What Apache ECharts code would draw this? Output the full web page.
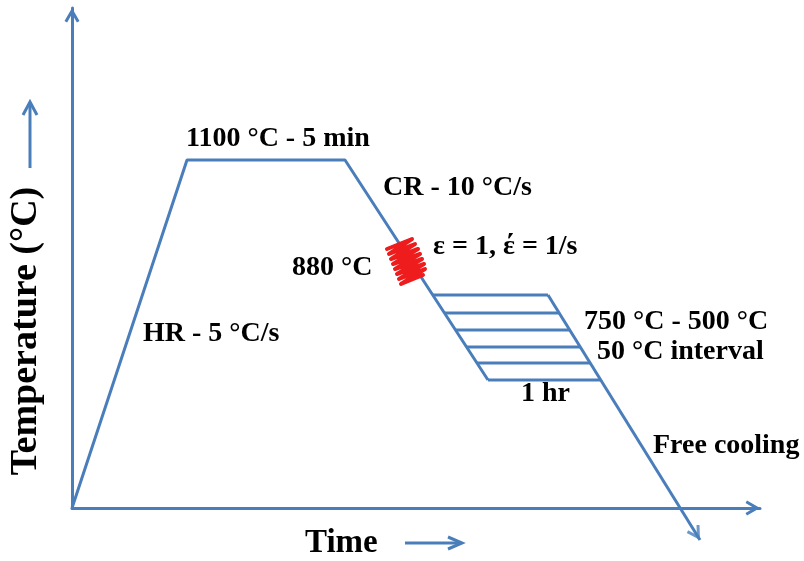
<!DOCTYPE html>
<html>
<head>
<meta charset="utf-8">
<script src="https://cdn.jsdelivr.net/npm/echarts@6/dist/echarts.min.js"></script>
<style>
html,body{margin:0;padding:0;background:#fff;}
#chart{width:804px;height:561px;}
</style>
</head>
<body>
<div id="chart"></div>
<script>
// ---- Data (schematic units) ----
const pathTime = [0, 115, 273, 416];
const pathTemp = [0, 348, 348, 128];
const holdTemp = [213, 195, 178, 161, 145, 128];
const holdStartTime = [361, 372, 384, 394, 405, 416];
const holdEndTime = [476, 487, 498, 508, 518, 529];
const freeCoolingTime = [476, 628];
const freeCoolingTemp = [213, -32];
const deformTime = [315, 340, 317, 343, 319, 346, 321, 348, 323, 350, 325, 352, 327, 353, 329, 351];
const deformTemp = [259, 269, 254, 264, 249, 259, 244, 254, 239, 249, 234, 244, 229, 239, 224, 233];
const annotationTexts = ['1100 °C - 5 min', 'CR - 10 °C/s', 'ε = 1, έ = 1/s', '880 °C', 'HR - 5 °C/s',
  '750 °C - 500 °C', '50 °C interval', '1 hr', 'Free cooling'];
const xAxisTitle = 'Time';
const yAxisTitle = 'Temperature (°C)';

// ---- Styles ----
const BLUE = '#4a7ebb';
const RED = '#ee1c1c';
const FONT = 'bold 28px "Liberation Serif", "Times New Roman", serif';
const CHEVRON = 'path://M7.5 0 L7.6 0 L7.5 0.1 Z M7.5 14.5 L15 27.5 L12.4 29 L7.5 20.5 L2.6 29 L0 27.5 Z';

const zip = (xs, ys) => xs.map((x, i) => [x, ys[i]]);

const series = [];
series.push({
  type: 'line', data: zip(pathTime, pathTemp), symbol: 'none', clip: false, silent: true,
  lineStyle: { color: BLUE, width: 3 }
});
holdTemp.forEach((t, i) => {
  series.push({
    type: 'line', data: [[holdStartTime[i], t], [holdEndTime[i], t]], symbol: 'none', clip: false, silent: true,
    lineStyle: { color: BLUE, width: 3 }
  });
});
series.push({
  type: 'line', data: zip(freeCoolingTime, freeCoolingTemp), symbol: 'none', clip: false, silent: true,
  lineStyle: { color: BLUE, width: 3 }
});
const n = freeCoolingTime.length;
const ang = Math.atan2(freeCoolingTemp[n - 1] - freeCoolingTemp[n - 2], freeCoolingTime[n - 1] - freeCoolingTime[n - 2]) * 180 / Math.PI;
series.push({
  type: 'scatter', data: [[freeCoolingTime[n - 1], freeCoolingTemp[n - 1]]], clip: false, silent: true,
  symbol: CHEVRON, symbolSize: [15, 29], symbolRotate: ang - 90, z: 5,
  itemStyle: { color: BLUE }
});
series.push({
  type: 'line', data: zip(deformTime, deformTemp), symbol: 'none', clip: false, silent: true, z: 6,
  lineStyle: { color: RED, width: 4, join: 'round', cap: 'round' }
});

// annotation positions (pixels): [left x, middle y]
const labelPos = [[186, 139], [383, 188], [433, 247], [292, 268], [143, 334], [584, 322], [597, 352], [521, 394], [653, 446]];

const graphic = annotationTexts.map((t, i) => ({
  type: 'text', x: labelPos[i][0], y: labelPos[i][1], silent: true,
  style: { text: t, font: FONT, fill: '#000', align: 'left', verticalAlign: 'middle' }
}));
graphic.push({
  type: 'text', x: 305, y: 543, silent: true,
  style: { text: xAxisTitle, font: 'bold 33px "Liberation Serif", serif', fill: '#000', align: 'left', verticalAlign: 'middle' }
});
graphic.push({
  type: 'text', x: 26, y: 331, rotation: Math.PI / 2, silent: true,
  style: { text: yAxisTitle, font: 'bold 38px "Liberation Serif", serif', fill: '#000', align: 'center', verticalAlign: 'middle' }
});
// small direction arrows next to the axis titles
graphic.push({ type: 'polyline', silent: true, shape: { points: [[405, 543], [461, 543]] }, style: { stroke: BLUE, lineWidth: 3, fill: null } });
graphic.push({ type: 'polyline', silent: true, shape: { points: [[448, 537], [462, 543], [448, 549]] }, style: { stroke: BLUE, lineWidth: 3, fill: null, lineJoin: 'miter' } });
graphic.push({ type: 'polyline', silent: true, shape: { points: [[30, 168], [30, 103]] }, style: { stroke: BLUE, lineWidth: 3, fill: null } });
graphic.push({ type: 'polyline', silent: true, shape: { points: [[23, 115], [30, 102], [37, 115]] }, style: { stroke: BLUE, lineWidth: 3, fill: null, lineJoin: 'miter' } });

const axisCommon = {
  type: 'value', min: 0,
  axisLine: { show: true, onZero: true, symbol: ['none', CHEVRON], symbolSize: [15, 29], lineStyle: { color: BLUE, width: 3 } },
  axisTick: { show: false }, axisLabel: { show: false }, splitLine: { show: false }
};

const chart = echarts.init(document.getElementById('chart'), null, { renderer: 'canvas' });
chart.setOption({
  animation: false,
  backgroundColor: '#fff',
  grid: { left: 72, right: 44, top: 8, bottom: 53, containLabel: false },
  xAxis: Object.assign({}, axisCommon, { max: 688 }),
  yAxis: Object.assign({}, axisCommon, { max: 500 }),
  series: series,
  graphic: graphic
});
</script>
</body>
</html>
